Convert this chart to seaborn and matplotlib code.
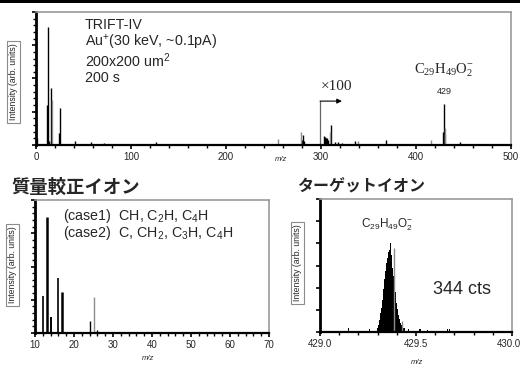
import numpy as np
import pandas as pd
import matplotlib
matplotlib.use("Agg")
import matplotlib.pyplot as plt
import matplotlib.transforms as mtransforms
from matplotlib.ticker import MultipleLocator
import seaborn as sns

sns.set_theme(style="ticks")
plt.rcParams["font.family"] = ["Liberation Sans", "Noto Sans CJK JP", "DejaVu Sans"]
plt.rcParams["mathtext.default"] = "regular"

# ---- full negative-ion spectrum (m/z > 300 shown x100) ----
full_mz_black = [1, 12, 13, 14, 16, 24, 25, 41, 58, 72, 126,
                 280, 281, 282, 303, 304, 305, 306, 307, 311, 315, 318, 322,
                 336, 353, 368, 428, 429, 446]
full_int_black = [0.05, 0.30, 0.89, 0.03, 0.43, 0.09, 0.28, 0.03, 0.02, 0.015, 0.02,
                  0.04, 0.075, 0.03, 0.07, 0.06, 0.055, 0.05, 0.04, 0.15, 0.02, 0.02, 0.015,
                  0.03, 0.01, 0.04, 0.10, 0.31, 0.02]
full_mz_gray = [17, 255, 279, 309, 339, 416, 430, 431]
full_int_gray = [0.34, 0.045, 0.10, 0.10, 0.03, 0.04, 0.13, 0.08]

# ---- calibration ions, low-mass region ----
cal_mz = [12, 13, 14, 16, 17, 24, 26]
cal_int = [0.28, 0.87, 0.12, 0.41, 0.31, 0.09, 0.02]
cal_width = [1.2, 1.8, 1.4, 1.2, 1.8, 1.0, 1.0]
cal_mz_gray = [25]
cal_int_gray = [0.27]

# ---- target ion C29H49O2-, high-resolution profile ----
tgt_mz = [429.150, 429.260,
          429.300, 429.305, 429.310, 429.315, 429.320, 429.325, 429.330, 429.335,
          429.340, 429.345, 429.350, 429.355, 429.360, 429.365, 429.370, 429.375,
          429.380, 429.385, 429.390, 429.395, 429.400, 429.405, 429.410, 429.415,
          429.420, 429.425, 429.430, 429.435, 429.440, 429.460, 429.500, 429.520,
          429.525, 429.560, 429.665, 429.675]
tgt_int = [0.03, 0.02,
           0.03, 0.05, 0.09, 0.14, 0.18, 0.24, 0.32, 0.40,
           0.46, 0.52, 0.56, 0.60, 0.62, 0.67, 0.58, 0.54,
           0.48, 0.42, 0.36, 0.30, 0.22, 0.17, 0.13, 0.10,
           0.07, 0.05, 0.04, 0.03, 0.03, 0.02, 0.02, 0.025,
           0.025, 0.015, 0.025, 0.025]
tgt_mz_gray = [429.383, 429.425]
tgt_int_gray = [0.63, 0.08]

W, H = 520, 367
fig = plt.figure(figsize=(W / 100, H / 100), dpi=100)
fig.patch.set_facecolor("white")


def fx(px):
    return px / W


def fy(py):
    return 1 - py / H


def make_axes(l, t, r, b):
    ax = fig.add_axes([fx(l), fy(b), fx(r) - fx(l), fy(t) - fy(b)])
    ax.set_facecolor("white")
    for s in ("top", "right"):
        ax.spines[s].set_color("#9a9a9a")
        ax.spines[s].set_linewidth(1.2)
    ax.spines["left"].set_color("black")
    ax.spines["left"].set_linewidth(2.0)
    ax.spines["bottom"].set_color("black")
    ax.spines["bottom"].set_linewidth(1.6)
    ax.tick_params(axis="both", which="both", direction="out", color="black",
                   labelsize=7, pad=2)
    ax.tick_params(axis="both", which="major", length=3, width=1.2)
    ax.tick_params(axis="both", which="minor", length=2, width=1.0)
    ax.set_yticklabels([])
    ax.set_ylabel("")
    ax.set_xlabel("")
    return ax


# top bar across the page
fig.add_artist(plt.Rectangle((0, fy(2.7)), 1, 1 - fy(2.7), transform=fig.transFigure,
                             color="black", lw=0))

# ---------------- full spectrum ----------------
ax1 = make_axes(36, 12, 511, 145)
ax1.vlines(full_mz_black, 0, full_int_black, color="black", lw=1.0)
ax1.vlines(full_mz_gray, 0, full_int_gray, color="#8c8c8c", lw=1.0)
ax1.set_xlim(0, 500)
ax1.set_ylim(0, 1)
ax1.xaxis.set_major_locator(MultipleLocator(100))
ax1.xaxis.set_minor_locator(MultipleLocator(20))
ax1.yaxis.set_major_locator(MultipleLocator(0.25))
ax1.yaxis.set_minor_locator(MultipleLocator(0.05))
ax1.set_yticklabels([])

# x100 marker arrow at m/z 300
ax1.annotate("", xy=(322, 0.33), xytext=(299, 0.33),
             arrowprops=dict(arrowstyle="-|>", color="black", lw=0.8,
                             mutation_scale=7, shrinkA=0, shrinkB=0))
ax1.plot([299, 299], [0, 0.33], color="#666666", lw=0.9)
ax1.text(316, 0.44, "×100", family="Liberation Serif", fontsize=11,
         ha="center", va="center")
ax1.text(429.5, 0.56, r"C$_{29}$H$_{49}$O$_2^{-}$", family="Liberation Serif",
         fontsize=10.5, ha="center", va="center")
ax1.text(429.5, 0.405, "429", fontsize=6.5, ha="center", va="center")

info = ["TRIFT-IV", r"Au$^{+}$(30 keV, ~0.1pA)", r"200x200 um$^{2}$", "200 s"]
for i, line in enumerate(info):
    fig.text(fx(85), fy(25 + 17.7 * i), line, fontsize=10.3, ha="left", va="center")

fig.text(fx(281), fy(159), "m/z", fontsize=5.5, style="italic", ha="center", va="center")

# ---------------- calibration ions ----------------
ax2 = make_axes(35, 200, 269, 333)
ax2.vlines(cal_mz, 0, cal_int, color="black", lw=cal_width)
ax2.vlines(cal_mz_gray, 0, cal_int_gray, color="#8c8c8c", lw=1.0)
ax2.set_xlim(10, 70)
ax2.set_ylim(0, 1)
ax2.xaxis.set_major_locator(MultipleLocator(10))
ax2.xaxis.set_minor_locator(MultipleLocator(2))
ax2.yaxis.set_major_locator(MultipleLocator(0.25))
ax2.yaxis.set_minor_locator(MultipleLocator(0.05))
ax2.set_yticklabels([])
fig.text(fx(63), fy(216), r"(case1)  CH, C$_2$H, C$_4$H", fontsize=10.3,
         ha="left", va="center")
fig.text(fx(63), fy(233), r"(case2)  C, CH$_2$, C$_3$H, C$_4$H", fontsize=10.3,
         ha="left", va="center")
fig.text(fx(148), fy(358), "m/z", fontsize=5.5, style="italic", ha="center", va="center")
fig.text(fx(11), fy(187), "質量較正イオン", fontsize=13.2, weight="bold",
         family=["Noto Sans CJK JP"], ha="left", va="center")

# ---------------- target ion ----------------
ax3 = make_axes(320, 199, 512, 332)
tgt = pd.DataFrame({"mz": tgt_mz, "intensity": tgt_int})
sns.barplot(data=tgt, x="mz", y="intensity", native_scale=True, width=1.0,
            color="black", linewidth=0, errorbar=None, ax=ax3)
ax3.vlines(tgt_mz_gray, 0, tgt_int_gray, color="#8c8c8c", lw=1.0)
ax3.set_xlim(429.0, 430.0)
ax3.set_ylim(0, 1)
ax3.set_xticks([429.0, 429.5, 430.0])
ax3.set_xticklabels(["429.0", "429.5", "430.0"])
ax3.xaxis.set_minor_locator(MultipleLocator(0.1))
ax3.set_yticks(np.linspace(0, 1, 7))
ax3.set_yticklabels([])
ax3.set_xlabel("")
ax3.set_ylabel("")
# keep the last tick label inside the page edge
last = ax3.get_xticklabels()[-1]
last.set_transform(last.get_transform() +
                   mtransforms.ScaledTranslation(-3 / 100, 0, fig.dpi_scale_trans))
fig.text(fx(387), fy(225), r"C$_{29}$H$_{49}$O$_2^{-}$", fontsize=8.5,
         ha="center", va="center")
fig.text(fx(462), fy(289), "344 cts", fontsize=13, ha="center", va="center")
fig.text(fx(417), fy(362), "m/z", fontsize=5.5, style="italic", ha="center", va="center")
fig.text(fx(297), fy(187), "ターゲットイオン", fontsize=11.5, weight="bold",
         family=["Noto Sans CJK JP"], ha="left", va="center")

# boxed intensity labels
box = dict(boxstyle="square,pad=0.25", fc="white", ec="#8c8c8c", lw=0.8)
for x, y in [(13.5, 82), (12.5, 265), (297.5, 263)]:
    fig.text(fx(x), fy(y), "Intensity (arb. units)", fontsize=6.3, rotation=90,
             ha="center", va="center", bbox=box)

fig.savefig("out.png", dpi=100, facecolor="white")
